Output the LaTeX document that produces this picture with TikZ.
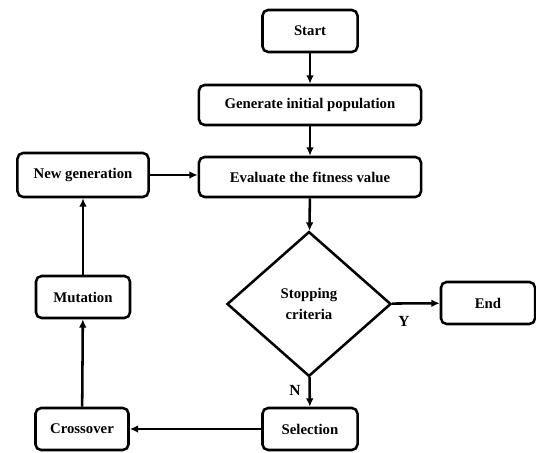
\documentclass[tikz,border=0pt]{standalone}
\usepackage{fontspec}
\setmainfont{Liberation Serif}
\usetikzlibrary{shapes.geometric,arrows.meta}
\tikzset{
  every path/.style={line width=1.8pt},
  box/.style={draw, rounded corners=4pt, inner sep=0pt, font=\bfseries\fontsize{10.5}{12}\selectfont},
  test/.style={draw, diamond, aspect=1.13, inner sep=0pt, minimum width=4.1cm, minimum height=3.62cm, align=center, font=\bfseries\fontsize{10.5}{15.5}\selectfont},
  flow/.style={-{Latex[length=6pt,width=5.5pt]}},
  lbl/.style={font=\bfseries\fontsize{11}{11}\selectfont}
}

\begin{document}
\begin{tikzpicture}[x=0.025cm, y=-0.025cm]
   \useasboundingbox (0,0) rectangle (536,452);
   \node[box, minimum width=2.375cm, minimum height=1.05cm] (start) at (310,31)  {Start};
   \node[box, minimum width=5.55cm,  minimum height=1.0cm]  (gen)   at (310,105) {Generate initial population};
   \node[box, minimum width=5.55cm,  minimum height=1.0cm]  (eval)  at (310,177) {Evaluate the fitness value};
   \node[test]                                             (stop)  at (309,304) {Stopping\\criteria};
   \node[box, minimum width=2.35cm,  minimum height=1.05cm] (end)   at (488,303) {End};
   \node[box, minimum width=2.375cm, minimum height=1.05cm] (sel)   at (310,429) {Selection};
   \node[box, minimum width=2.325cm, minimum height=1.05cm] (cross) at (82,429)  {Crossover};
   \node[box, minimum width=2.35cm,  minimum height=1.05cm] (mut)   at (83,297)  {Mutation};
   \node[box, minimum width=3.275cm, minimum height=1.1cm]  (new)   at (83,175)  {New generation};
   \draw[flow] (start) -- (gen);
   \draw[flow] (gen) -- (eval);
   \draw[flow] (eval) -- (stop);
   \draw[flow] (stop) -- (end);
   \draw[flow] (stop) -- (sel);
   \draw[flow] (sel) -- (cross);
   \draw[flow] (cross) -- (mut);
   \draw[flow] (mut) -- (new);
   \draw[flow] (new) -- (new -| eval.west);
   \node[lbl] (yes) at (404,321) {Y};
   \node[lbl] (no)  at (295,390) {N};
\end{tikzpicture}
\end{document}
